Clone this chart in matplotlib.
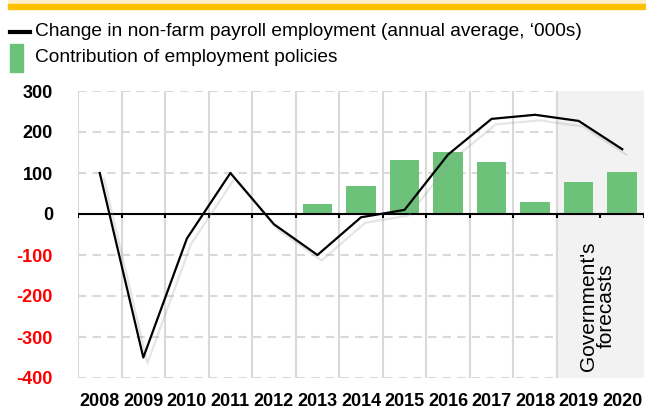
import matplotlib.pyplot as plt
import matplotlib.patheffects as pe
from matplotlib.patches import Rectangle
from matplotlib.lines import Line2D
import numpy as np

years = ['2008', '2009', '2010', '2011', '2012', '2013', '2014',
         '2015', '2016', '2017', '2018', '2019', '2020']
payroll = [100, -350, -60, 100, -25, -100, -8, 10, 145, 232, 242, 227, 158]
policy = [0, 0, 0, 0, 0, 25, 68, 132, 152, 127, 29, 78, 103]
yticks = [300, 200, 100, 0, -100, -200, -300, -400]

plt.rcParams['font.family'] = ['Liberation Sans', 'DejaVu Sans']

fig = plt.figure(figsize=(6.46, 4.12), dpi=100)
W, H = 646, 412

# bande du haut
fig.patches.append(Rectangle((8 / W, 1 - 4 / H), 1, 4 / H, transform=fig.transFigure,
                             color='#fdf0c8', zorder=0))
fig.patches.append(Rectangle((8 / W, 1 - 9 / H), 1, 5 / H, transform=fig.transFigure,
                             color='#ffc000', zorder=0))

ax = fig.add_axes([78 / W, 34 / H, 566 / W, 287 / H])
x = np.arange(len(years))
ax.set_xlim(-0.5, len(years) - 0.5)
ax.set_ylim(-400, 300)

# grille
for b in np.arange(-0.5, len(years), 1.0):
    ax.axvline(b, color='#d9d9d9', lw=1.5, zorder=0)
for t in yticks:
    if t != 0:
        ax.axhline(t, color='#d9d9d9', lw=1.5, ls=(0, (4, 3)), zorder=0)

# zone des prévisions
ax.axvspan(10.5, len(years) - 0.5, color='#f2f2f2', zorder=1, lw=0)
ax.axvline(10.5, color='#d9d9d9', lw=1.5, zorder=1)

ax.bar(x, policy, width=0.68, color='#6dc27a', zorder=2)

ax.axhline(0, color='black', lw=1.5, zorder=3)
ax.vlines(np.arange(-0.5, len(years), 1.0), -10, 0, color='black', lw=1.5, zorder=3)

ax.plot(x, payroll, color='black', lw=1.6, zorder=4,
        path_effects=[pe.SimpleLineShadow(offset=(3, -4), shadow_color='#999999', alpha=0.25),
                      pe.Normal()])

ax.text(11.43, -225, "Government's\nforecasts", rotation=90, ha='center', va='center',
        fontsize=15, linespacing=0.95, zorder=5)

for s in ax.spines.values():
    s.set_visible(False)

ax.set_xticks(x)
ax.set_xticklabels(years, fontsize=13, fontweight='bold')
ax.tick_params(axis='x', length=0, pad=11)
ax.set_yticks(yticks)
ax.set_yticklabels([str(t) for t in yticks], fontsize=13, fontweight='bold')
ax.tick_params(axis='y', length=0, pad=18)
for lab, t in zip(ax.get_yticklabels(), yticks):
    lab.set_color('red' if t < 0 else 'black')

# légende
fig.lines.append(Line2D([10 / W, 30 / W], [1 - 32 / H, 1 - 32 / H],
                        transform=fig.transFigure, color='black', lw=3))
fig.patches.append(Rectangle((10 / W, 1 - 72 / H), 13 / W, 28 / H,
                             transform=fig.transFigure, color='#6dc27a'))
fig.text(35 / W, 1 - 31 / H, "Change in non-farm payroll employment (annual average, \u2018000s)",
         fontsize=13.8, va='center')
fig.text(35 / W, 1 - 58 / H, "Contribution of employment policies",
         fontsize=13.8, va='center')

fig.savefig('out.png', dpi=100)
